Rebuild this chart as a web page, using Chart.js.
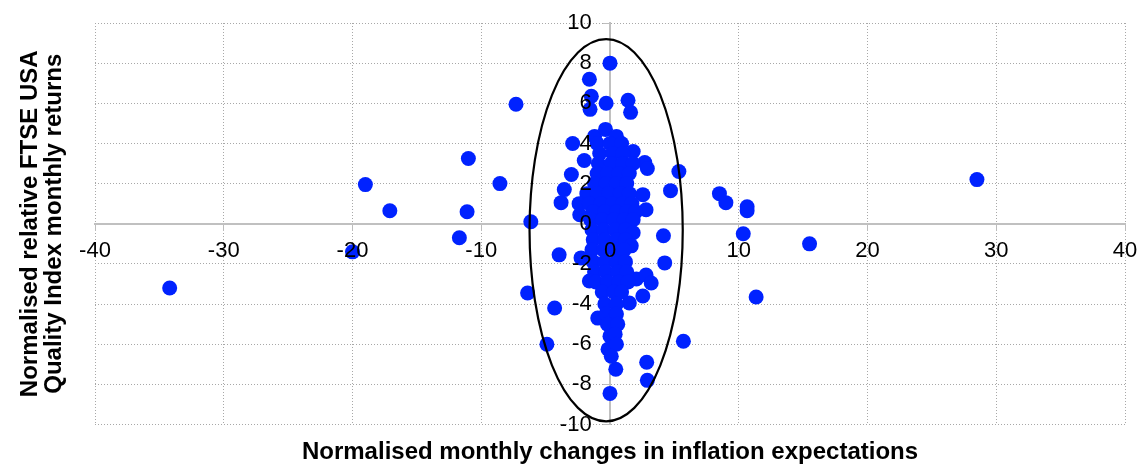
<!DOCTYPE html>
<html lang="en">
<head>
  <meta charset="UTF-8">
  <title>Inflation expectations vs FTSE USA Quality returns</title>
  <style>
    html, body {
      margin: 0;
      padding: 0;
      background-color: #ffffff;
    }
    .chart-container {
      width: 1139px;
      height: 465px;
    }
  </style>
</head>
<body>

<div class="chart-container">
  <canvas id="scatter"></canvas>
</div>

<script src="https://cdn.jsdelivr.net/npm/chart.js"></script>
<script>
  // [change in inflation expectations, relative monthly return]
  const widePoints = [
    [-34.2, -3.2], [-20.0, -1.4], [-19.0, 1.95], [-17.1, 0.65],
    [-11.7, -0.7], [-11.1, 0.6], [-11.0, 3.25], [-8.55, 2.0],
    [-7.3, 5.95], [-6.4, -3.45],
    [8.5, 1.5], [9.0, 1.05], [10.35, -0.5], [10.65, 0.85], [10.65, 0.65],
    [11.35, -3.65], [15.5, -1.0], [28.5, 2.2]
  ];

  const ringPoints = [
    [-6.15, 0.1], [-4.9, -6.0], [-4.3, -4.2], [-3.95, -1.55], [-3.8, 1.05],
    [-3.55, 1.7], [-3.0, 2.45], [-2.9, 4.0], [-2.35, 0.45], [-2.25, -1.7],
    [-2.0, 3.15], [-1.6, 7.2], [-1.45, 6.35], [-1.55, 5.7], [-0.3, 6.0],
    [0.0, 8.0], [1.4, 6.15], [1.6, 5.55], [2.55, 1.45], [2.7, 3.05],
    [2.8, 0.7], [2.9, 2.75], [4.15, -0.6], [4.25, -1.95], [4.7, 1.65],
    [5.35, 2.6], [5.7, -5.85], [2.85, -6.9], [2.9, -7.8], [0.45, -7.25],
    [0.0, -8.45], [2.05, -2.75], [2.8, -2.55], [3.2, -2.95], [2.55, -3.6],
    [1.5, -3.95]
  ];

  const corePoints = [
    [-1.2, 4.35], [-0.35, 4.7], [0.5, 4.35], [1.8, 3.6],
    [-1.0, 4.0], [0.0, 4.0], [0.9, 4.0],
    [-0.8, 3.5], [0.2, 3.5], [1.0, 3.5],
    [-0.9, 3.0], [0.1, 3.0], [1.0, 3.0], [1.8, 3.0],
    [-1.0, 2.5], [-0.2, 2.5], [0.7, 2.5], [1.5, 2.5],
    [-1.2, 2.0], [-0.3, 2.0], [0.5, 2.0], [1.3, 2.0],
    [-1.8, 1.5], [-1.0, 1.5], [-0.1, 1.5], [0.8, 1.5], [1.5, 1.5],
    [-2.4, 1.0], [-1.6, 1.0], [-0.7, 1.0], [0.2, 1.0], [1.0, 1.0], [1.7, 1.0],
    [-1.3, 0.6], [-0.4, 0.6], [0.5, 0.6], [1.3, 0.6], [2.0, 0.6],
    [-1.5, 0.2], [-0.6, 0.2], [0.3, 0.2], [1.1, 0.2], [1.8, 0.2],
    [-1.4, -0.3], [-0.5, -0.3], [0.4, -0.3], [1.2, -0.3], [1.8, -0.45],
    [-1.3, -0.8], [-0.4, -0.8], [0.5, -0.8], [1.2, -0.8], [1.65, -1.1],
    [-1.4, -1.3], [-0.5, -1.3], [0.4, -1.3], [1.1, -1.3],
    [-1.3, -1.9], [-0.4, -1.9], [0.5, -1.9], [1.2, -1.9],
    [-1.2, -2.4], [-0.3, -2.4], [0.6, -2.4], [1.3, -2.4],
    [-1.6, -2.85], [-1.1, -2.9], [-0.2, -2.9], [0.7, -2.9], [1.4, -2.9],
    [-0.6, -3.4], [0.3, -3.4], [0.9, -3.4],
    [-0.4, -4.0], [0.5, -4.0],
    [-0.95, -4.7], [-0.3, -4.5], [0.5, -4.5],
    [-0.2, -5.0], [0.6, -5.0],
    [0.0, -5.6], [0.4, -5.5],
    [-0.15, -6.25], [0.5, -6.0], [0.1, -6.6]
  ];

  const xTitle = 'Normalised monthly changes in inflation expectations';
  const yTitle = ['Normalised relative FTSE USA', 'Quality Index monthly returns'];

  // ellipse marking the main cluster, in data units
  const ellipseCenter = [-0.3, -0.32];
  const ellipseRadii = [5.95, 9.52];

  const fontFamily = '"Liberation Sans", Arial, sans-serif';

  const ellipsePlugin = {
    id: 'clusterEllipse',
    afterDatasetsDraw(chart) {
      const { ctx, scales: { x, y } } = chart;
      const cx = x.getPixelForValue(ellipseCenter[0]);
      const cy = y.getPixelForValue(ellipseCenter[1]);
      const rx = Math.abs(x.getPixelForValue(ellipseCenter[0] + ellipseRadii[0]) - cx);
      const ry = Math.abs(y.getPixelForValue(ellipseCenter[1] + ellipseRadii[1]) - cy);
      ctx.save();
      ctx.beginPath();
      ctx.ellipse(cx, cy, rx, ry, 0, 0, Math.PI * 2);
      ctx.lineWidth = 2.2;
      ctx.strokeStyle = '#000000';
      ctx.stroke();
      ctx.restore();
    }
  };

  // centred axes: take no room in the layout
  function flattenX(scale) {
    scale.height = 0;
    scale.paddingLeft = 0;
    scale.paddingRight = 0;
  }
  function flattenY(scale) {
    scale.width = 0;
    scale.paddingTop = 0;
    scale.paddingBottom = 0;
  }

  const toXY = p => ({ x: p[0], y: p[1] });
  const allPoints = widePoints.concat(ringPoints, corePoints).map(toXY);

  new Chart(document.getElementById('scatter'), {
    type: 'scatter',
    data: {
      datasets: [{
        data: allPoints,
        backgroundColor: '#0022ff',
        borderWidth: 0,
        pointRadius: 7.5,
        pointHoverRadius: 7.5
      }]
    },
    options: {
      responsive: true,
      maintainAspectRatio: false,
      animation: false,
      layout: { padding: { left: 8, right: 14, top: 23, bottom: 1 } },
      plugins: {
        legend: { display: false },
        tooltip: { enabled: false },
        title: {
          display: true,
          position: 'left',
          fullSize: false,
          text: yTitle,
          color: '#000000',
          font: { family: fontFamily, size: 24, weight: 'bold', lineHeight: 1 },
          padding: { top: 10, bottom: 29 }
        },
        subtitle: {
          display: true,
          position: 'bottom',
          fullSize: false,
          text: xTitle,
          color: '#000000',
          font: { family: fontFamily, size: 24, weight: 'bold', lineHeight: 1 },
          padding: { top: 15.5, bottom: 0 }
        }
      },
      scales: {
        x: {
          type: 'linear',
          min: -40,
          max: 40,
          position: { y: 0 },
          afterFit: flattenX,
          ticks: {
            stepSize: 10,
            color: '#000000',
            font: { family: fontFamily, size: 22 },
            padding: 8,
            z: 1
          },
          grid: {
            color: '#a8a8a8',
            lineWidth: 1,
            tickLength: 6,
            tickColor: '#bdbdbd',
            tickBorderDash: []
          },
          border: { color: '#c0c0c0', width: 2, dash: [1, 2] }
        },
        y: {
          type: 'linear',
          min: -10,
          max: 10,
          position: { x: 0 },
          afterFit: flattenY,
          ticks: {
            stepSize: 2,
            color: '#000000',
            font: { family: fontFamily, size: 22 },
            // labels sit a little left of the vertical axis
            callback: value => value + '\u0020\u0020\u0020',
            z: 1
          },
          grid: {
            color: '#a8a8a8',
            lineWidth: 1,
            tickLength: 6,
            tickColor: '#bdbdbd',
            tickBorderDash: []
          },
          border: { color: '#c0c0c0', width: 2, dash: [1, 2] }
        }
      }
    },
    plugins: [ellipsePlugin]
  });
</script>
</body>
</html>
